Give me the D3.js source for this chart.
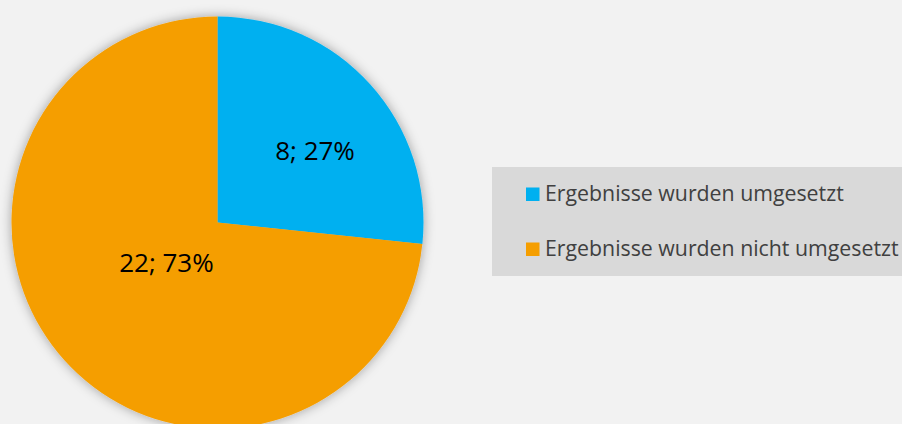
<!DOCTYPE html>
<html>
<head>
<meta charset="utf-8">
<script src="https://cdn.jsdelivr.net/npm/d3@7"></script>
<style>
    html, body { margin: 0; padding: 0; background: #f2f2f2; }
    #chart { width: 902px; height: 424px; }
</style>
</head>
<body>
<div id="chart"></div>
<script>
// Data
const categories = ["Ergebnisse wurden umgesetzt", "Ergebnisse wurden nicht umgesetzt"];
const values = [8, 22];
const percentLabels = ["27%", "73%"];
const colors = ["#00b0f0", "#f59e00"];

const width = 902, height = 424;
const cx = 217.5, cy = 222.5, radius = 206;

const svg = d3.select("#chart").append("svg")
    .attr("width", width)
    .attr("height", height);

svg.append("rect")
    .attr("width", width)
    .attr("height", height)
    .attr("fill", "#f2f2f2");

// Soft shadow around the pie
const defs = svg.append("defs");
const filter = defs.append("filter")
    .attr("id", "glow")
    .attr("x", "-20%").attr("y", "-20%")
    .attr("width", "140%").attr("height", "140%");
filter.append("feDropShadow")
    .attr("dx", 0)
    .attr("dy", 0)
    .attr("stdDeviation", 6)
    .attr("flood-color", "#000")
    .attr("flood-opacity", 0.35);

const pie = d3.pie().sort(null).value(d => d);
const arcs = pie(values);

const arc = d3.arc().innerRadius(0).outerRadius(radius);
const labelArc = d3.arc().innerRadius(radius * 0.5).outerRadius(radius * 0.5);

const g = svg.append("g")
    .attr("transform", "translate(" + cx + "," + cy + ")");

g.append("g")
    .attr("filter", "url(#glow)")
    .selectAll("path")
    .data(arcs)
    .join("path")
    .attr("d", arc)
    .attr("fill", (d, i) => colors[i]);

// Slice labels (nudged from the centroid like the original)
const labelNudge = [[21, 6.5], [25.5, -19.5]];
g.selectAll("text.slice-label")
    .data(arcs)
    .join("text")
    .attr("class", "slice-label")
    .attr("x", (d, i) => labelArc.centroid(d)[0] + labelNudge[i][0])
    .attr("y", (d, i) => labelArc.centroid(d)[1] + labelNudge[i][1])
    .attr("text-anchor", "middle")
    .attr("font-family", "Open Sans, sans-serif")
    .attr("font-size", 26)
    .attr("fill", "#000")
    .text((d, i) => values[i] + "; " + percentLabels[i]);

// Legend
const legend = svg.append("g");
legend.append("rect")
    .attr("x", 492)
    .attr("y", 167)
    .attr("width", 410)
    .attr("height", 109)
    .attr("fill", "#d9d9d9");

const rowY = [201, 256];
categories.forEach((c, i) => {
    legend.append("rect")
        .attr("x", 526)
        .attr("y", rowY[i] - 13.5)
        .attr("width", 13.5)
        .attr("height", 13.5)
        .attr("fill", colors[i]);
    legend.append("text")
        .attr("x", 545)
        .attr("y", rowY[i])
        .attr("font-family", "Open Sans, sans-serif")
        .attr("font-size", 21.3)
        .attr("fill", "#404040")
        .text(c);
});
</script>
</body>
</html>
